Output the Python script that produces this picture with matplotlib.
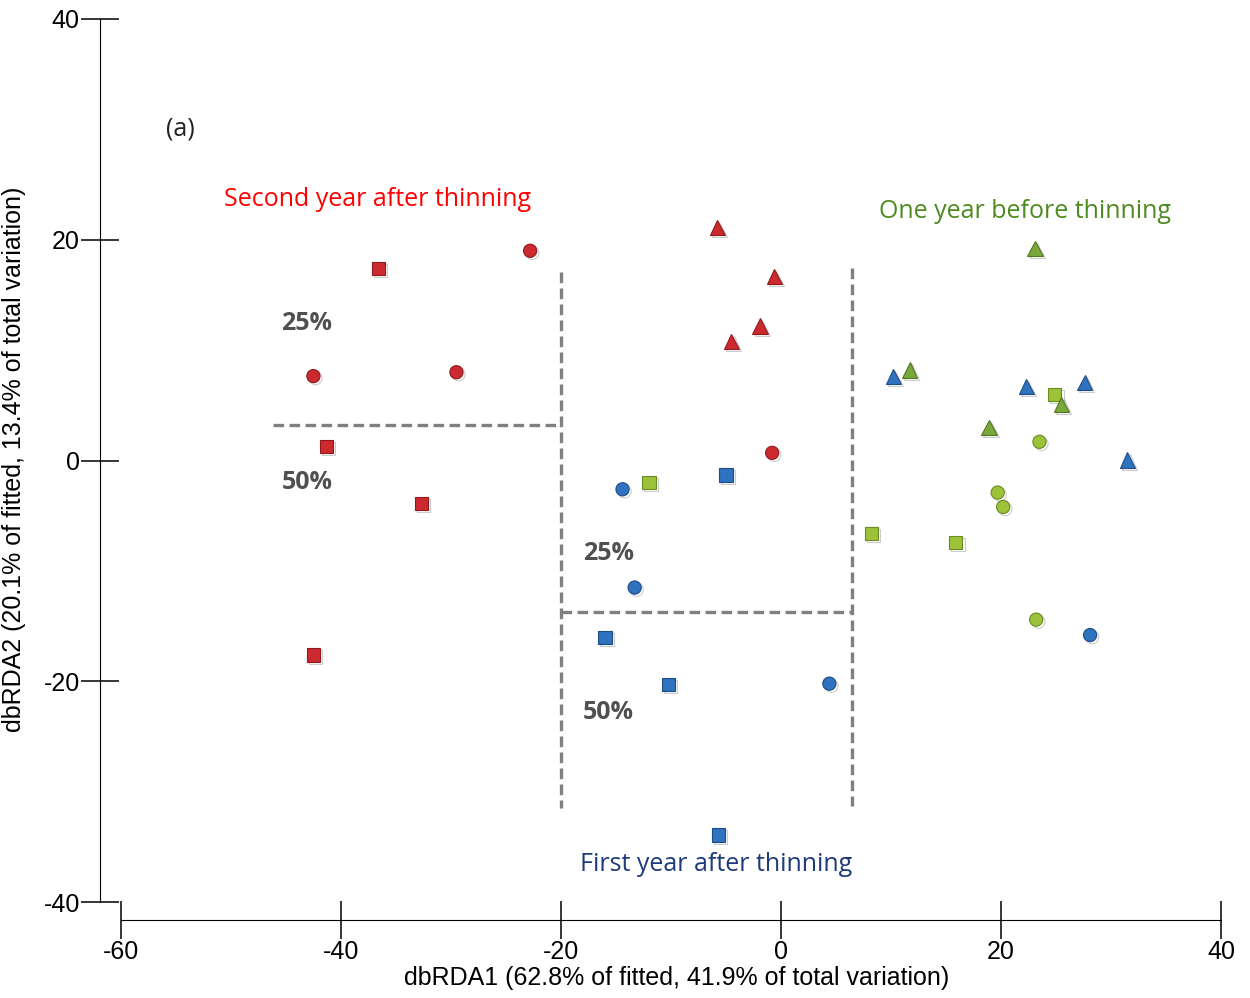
import matplotlib.pyplot as plt
import matplotlib.patheffects as pe

plt.rcParams['axes.unicode_minus'] = False

# dbRDA site scores, grouped by sampling period and plot shape
red_circle_x = [-42.5, -22.8, -29.5, -0.8]
red_circle_y = [7.65, 19.0, 8.0, 0.7]
red_square_x = [-36.6, -41.3, -32.7, -42.5]
red_square_y = [17.4, 1.3, -3.9, -17.6]
red_tri_x = [-5.8, -0.6, -1.9, -4.5]
red_tri_y = [21.1, 16.7, 12.2, 10.8]

blue_circle_x = [-14.4, -13.3, 4.4, 28.1]
blue_circle_y = [-2.6, -11.5, -20.2, -15.8]
blue_square_x = [-5.0, -16.0, -10.2, -5.7]
blue_square_y = [-1.3, -16.0, -20.3, -33.9]
blue_tri_x = [10.2, 22.3, 27.6, 31.5]
blue_tri_y = [7.6, 6.7, 7.1, 0.05]

green_circle_x = [23.5, 19.7, 20.2, 23.2]
green_circle_y = [1.7, -2.9, -4.2, -14.4]
green_square_x = [-12.0, 24.9, 8.2, 15.9]
green_square_y = [-2.0, 6.0, -6.6, -7.4]
green_tri_x = [23.1, 11.7, 25.5, 18.9]
green_tri_y = [19.2, 8.2, 5.1, 3.0]

# cluster boundaries (25% / 50% similarity)
h_line1 = ([-46.2, -20.0], [3.2, 3.2])
v_line1 = ([-20.0, -20.0], [17.1, -31.5])
v_line2 = ([6.5, 6.5], [17.4, -31.3])
h_line2 = ([-20.0, 6.5], [-13.7, -13.7])

fig = plt.figure(figsize=(12.5, 9.98), dpi=100)
ax = fig.add_axes([0.08, 0.0782, 0.9012, 0.9062])
ax.set_xlim(-61.9, 40.5)
ax.set_ylim(-41.6, 40.3)

shadow = [pe.SimpleLineShadow(offset=(1.5, -1.5), shadow_color='0.35', alpha=0.3),
          pe.Normal()]


def pts(x, y, marker, face, edge, size):
    ax.plot(x, y, linestyle='none', marker=marker, markersize=size,
            markerfacecolor=face, markeredgecolor=edge, markeredgewidth=0.8,
            path_effects=shadow, zorder=3)


red, red_e = '#cc2a2f', '#8e1a1e'
blue, blue_e = '#2f72c0', '#1d4c85'
lgreen, lgreen_e = '#9dc23a', '#6a8a22'
dgreen, dgreen_e = '#79a83a', '#527525'

pts(red_circle_x, red_circle_y, 'o', red, red_e, 9.5)
pts(red_square_x, red_square_y, 's', red, red_e, 9.5)
pts(red_tri_x, red_tri_y, '^', red, red_e, 11)
pts(blue_circle_x, blue_circle_y, 'o', blue, blue_e, 9.5)
pts(blue_square_x, blue_square_y, 's', blue, blue_e, 9.5)
pts(blue_tri_x, blue_tri_y, '^', blue, blue_e, 11)
pts(green_circle_x, green_circle_y, 'o', lgreen, lgreen_e, 9.5)
pts(green_square_x, green_square_y, 's', lgreen, lgreen_e, 9.5)
pts(green_tri_x, green_tri_y, '^', dgreen, dgreen_e, 11)

for xs, ys in (h_line1, v_line1, v_line2, h_line2):
    ax.plot(xs, ys, color='#808080', linestyle=(0, (3.2, 1.6)), linewidth=2.4, zorder=2)

lab_font = 'Open Sans'
ax.text(-54.6, 30.0, '(a)', fontsize=18, family=lab_font, ha='center', va='center', color='#222222')
ax.text(-36.7, 23.6, 'Second year after thinning', fontsize=18, family=lab_font,
        ha='center', va='center', color='#ff0000')
ax.text(22.2, 22.6, 'One year before thinning', fontsize=18, family=lab_font,
        ha='center', va='center', color='#4e8a1e')
ax.text(-5.9, -36.6, 'First year after thinning', fontsize=18, family=lab_font,
        ha='center', va='center', color='#1f3a7a')
for px, py, s in [(-43.1, 12.4, '25%'), (-43.1, -2.0, '50%'),
                  (-15.7, -8.4, '25%'), (-15.7, -22.8, '50%')]:
    ax.text(px, py, s, fontsize=18, family=lab_font, fontweight='bold',
            ha='center', va='center', color='#505050')

# detached spines with ticks crossing the axis line
for side in ('top', 'right'):
    ax.spines[side].set_visible(False)
ax.spines['left'].set_bounds(-40, 40)
ax.spines['bottom'].set_bounds(-60, 40)
ax.set_xticks([-60, -40, -20, 0, 20, 40])
ax.set_yticks([-40, -20, 0, 20, 40])
ax.tick_params(direction='inout', length=27, width=1.1, labelsize=18,
               colors='black', pad=1)
for lab in ax.get_xticklabels() + ax.get_yticklabels():
    lab.set_family('Liberation Sans')

ax.set_xlabel('dbRDA1 (62.8% of fitted, 41.9% of total variation)',
              fontsize=18, family='Liberation Sans')
ax.set_ylabel('dbRDA2 (20.1% of fitted, 13.4% of total variation)',
              fontsize=18, family='Liberation Sans')
ax.xaxis.set_label_coords(0.512, -0.051)
ax.yaxis.set_label_coords(-0.066, 0.509)

fig.savefig('out.png', dpi=100)
